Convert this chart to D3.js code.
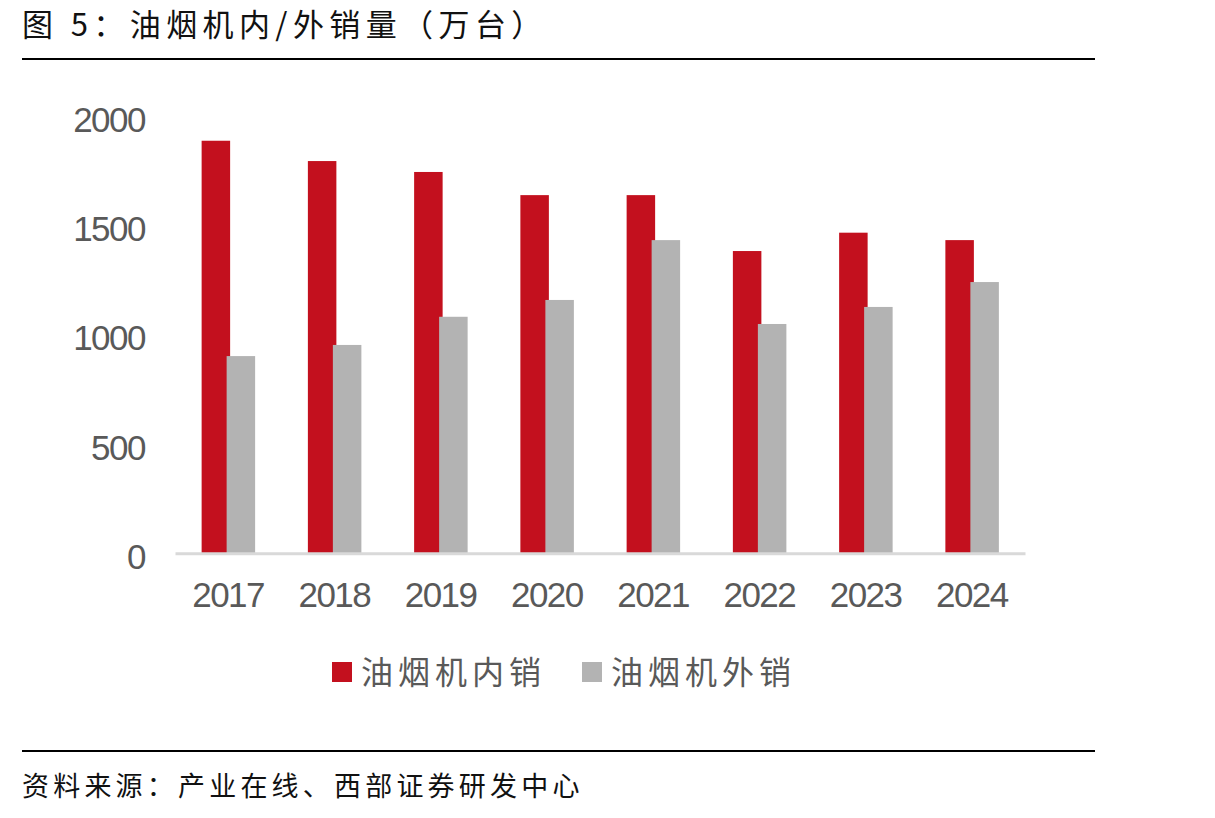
<!DOCTYPE html>
<html>
<head>
<meta charset="utf-8">
<script src="https://cdn.jsdelivr.net/npm/d3@7/dist/d3.min.js"></script>
<style>
  body { margin: 0; background: #fff; }
  svg { display: block; }
</style>
</head>
<body>
<div id="chart"></div>
<script>
// data (万台)
var years = ["2017", "2018", "2019", "2020", "2021", "2022", "2023", "2024"];
var seriesNames = ["油烟机内销", "油烟机外销"];
var domestic = [1889, 1796, 1746, 1640, 1640, 1384, 1468, 1434];
var exportSales = [903, 954, 1083, 1160, 1434, 1050, 1128, 1242];
var yTicks = [0, 500, 1000, 1500, 2000];
var colors = ["#C3101E", "#B3B3B3"];

var width = 1215, height = 818;
var cjk = "'Noto Sans CJK SC', sans-serif";
var num = "'Liberation Sans', Arial, sans-serif";

var svg = d3.select("#chart").append("svg")
    .attr("width", width)
    .attr("height", height);

// title + rules
svg.append("text")
    .attr("x", 22).attr("y", 36)
    .style("font-family", cjk)
    .style("font-size", "31px")
    .style("letter-spacing", "5.4px")
    .attr("fill", "#111")
    .text("图 5：油烟机内/外销量（万台）");

svg.append("line")
    .attr("x1", 22).attr("x2", 1095).attr("y1", 59).attr("y2", 59)
    .attr("stroke", "#000").attr("stroke-width", 2);
svg.append("line")
    .attr("x1", 22).attr("x2", 1095).attr("y1", 751).attr("y2", 751)
    .attr("stroke", "#000").attr("stroke-width", 2);

svg.append("text")
    .attr("x", 22).attr("y", 796)
    .style("font-family", cjk)
    .style("font-size", "27px")
    .style("letter-spacing", "4.2px")
    .attr("fill", "#111")
    .text("资料来源：产业在线、西部证券研发中心");

// scales
var x = d3.scaleBand().domain(years).range([175, 1025]);
var y = d3.scaleLinear().domain([0, 2000]).range([553.3, 116.5]);
var offset = d3.scaleOrdinal().domain(seriesNames).range([-26.5, -1.5]);
var barW = 28.5;

// y axis
var yAxis = svg.append("g")
    .attr("transform", "translate(145,0)")
    .call(d3.axisLeft(y).tickValues(yTicks).tickFormat(d3.format("d")).tickSize(0).tickPadding(0));
yAxis.select(".domain").remove();
yAxis.selectAll("text")
    .attr("dy", "0.37em")
    .attr("y", 2)
    .style("font-family", num)
    .style("font-size", "35px")
    .style("letter-spacing", "-1.5px")
    .attr("fill", "#595959");

// bars
var groups = [domestic, exportSales];
groups.forEach(function(vals, s) {
    svg.append("g").selectAll("rect")
        .data(vals)
        .enter()
        .append("rect")
        .attr("x", function(d, i) { return x(years[i]) + x.bandwidth() / 2 + offset(seriesNames[s]); })
        .attr("y", function(d) { return y(d); })
        .attr("width", barW)
        .attr("height", function(d) { return y(0) - y(d); })
        .attr("fill", colors[s]);
});

// x axis
var xAxis = svg.append("g")
    .attr("transform", "translate(0," + y(0) + ")")
    .call(d3.axisBottom(x).tickSize(0).tickSizeOuter(0).tickPadding(0));
xAxis.select(".domain")
    .attr("stroke", "#D9D9D9")
    .attr("stroke-width", 3);
xAxis.selectAll("text")
    .attr("y", 54)
    .attr("dy", 0)
    .style("font-family", num)
    .style("font-size", "35px")
    .style("letter-spacing", "-1.5px")
    .attr("fill", "#595959");

// legend
var legendX = [332, 582];
var legend = svg.append("g").selectAll("g")
    .data(seriesNames)
    .enter()
    .append("g")
    .attr("transform", function(d, i) { return "translate(" + legendX[i] + ",672)"; });
legend.append("rect")
    .attr("x", 0).attr("y", -10)
    .attr("width", 20).attr("height", 20)
    .attr("fill", function(d, i) { return colors[i]; });
legend.append("text")
    .attr("x", 29).attr("y", 0)
    .attr("dy", "0.36em")
    .style("font-family", cjk)
    .style("font-size", "32px")
    .style("letter-spacing", "5px")
    .attr("fill", "#595959")
    .text(function(d) { return d; });
</script>
</body>
</html>
